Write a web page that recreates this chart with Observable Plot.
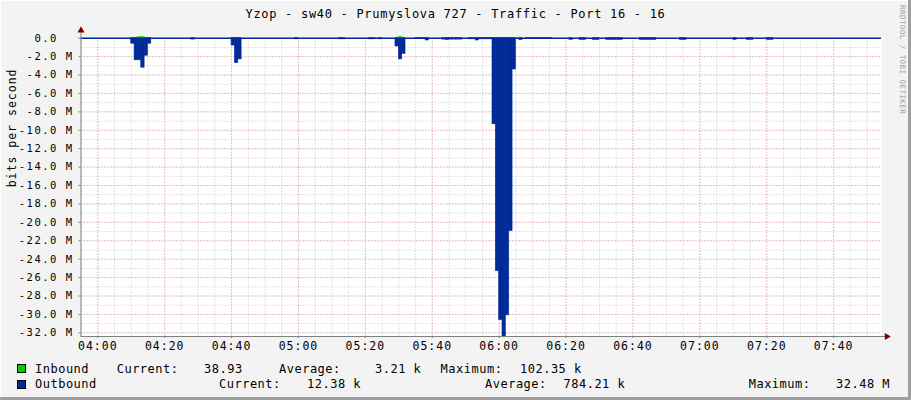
<!DOCTYPE html>
<html><head><meta charset="utf-8">
<script src="https://cdn.jsdelivr.net/npm/d3@7"></script>
<script src="https://cdn.jsdelivr.net/npm/@observablehq/plot@0.6"></script>
<style>
body{margin:0;background:#fff;}
#c{position:relative;width:911px;height:400px;background:#F3F3F3;overflow:hidden;font-family:"DejaVu Sans Mono",monospace;box-shadow:inset -3px -3px 0 #9F9F9F, inset 1px 1px 0 #FFFFFF;}
#title{position:absolute;left:0;top:7px;width:911px;text-align:center;font-size:12px;line-height:14px;letter-spacing:0.7px;color:#000;}
#wm{position:absolute;left:898px;top:5px;writing-mode:vertical-rl;font-size:7.5px;color:#A0A0A0;letter-spacing:0.45px;}
#plot{position:absolute;left:0;top:27px;}
#plot svg{overflow:visible;}
.ax-y text{font-size:10.5px;letter-spacing:1.5px;}
.ax-x text{font-size:11.5px;letter-spacing:1px;}
.ylab text{font-size:11.5px;letter-spacing:1px;}
.lg{position:absolute;font-size:12px;line-height:14px;letter-spacing:0.5px;white-space:pre;color:#000;}
.sw{position:absolute;width:7px;height:7px;border:1px solid #000;}
</style></head>
<body>
<div id="c">
  <div id="title"></div>
  <div id="wm">RRDTOOL / TOBI OETIKER</div>
  <div id="plot"></div>
</div>
<script>
// ---- data ----
const titleText = "Yzop - sw40 - Prumyslova 727 - Traffic - Port 16 - 16";
const yLabel = "bits per second";
// minutes after 04:00 (1-minute bins) and outbound rate in Mbit/s
const outMinutes = [10,11,12,13,14,15, 28, 40,41,42, 59, 72,73,81,82,84, 89,90,91,
  95,96,97,98, 103,104,105,106,107,108, 111,112,113,114,115,116,117,
  118,119,120,121,122,123,124, 126, 128,129,130,131,132,133,134,135,
  141,144,145,148,149,152,153,154,155,156,162,163,164,165,166,174,175,190,194,195,200,201];
const outMbps = [0.6,2.4,2.4,3.2,1.9,0.6, 0.15, 0.8,2.7,2.3, 0.12, 0.12,0.12,0.12,0.12,0.12, 0.9,2.3,1.7,
  0.1,0.1,0.1,0.25, 0.15,0.2,0.15,0.15,0.15,0.15, 0.12,0.12,0.25,0.12,0.12,0.12,0.12,
  9.35,25.3,30.6,32.48,30.1,20.95,3.4, 0.2, 0.1,0.1,0.1,0.1,0.1,0.1,0.1,0.1,
  0.18,0.18,0.18,0.18,0.18,0.18,0.18,0.18,0.18,0.18,0.18,0.18,0.18,0.18,0.18,0.18,0.18,0.18,0.18,0.18,0.18,0.18];
const inMinutes = [12,13,90];
const inMbps = [0.10,0.09,0.10];
const yTickValues = [0,-2,-4,-6,-8,-10,-12,-14,-16,-18,-20,-22,-24,-26,-28,-30,-32];
const xTickMinutes = [0,20,40,60,80,100,120,140,160,180,200,220];
const seriesNames = ["Inbound","Outbound"];
const seriesColors = ["#00CF00","#002A97"];
const statNames = ["Current:","Average:","Maximum:"];
const inStats = ["38.93","3.21 k","102.35 k"];
const outStats = ["12.38 k","784.21 k","32.48 M"];

// ---- helpers ----
const base = new Date(2024,0,1,4,0,0);
const t = m => new Date(base.getTime() + m*60000);
const xDomain = [t(-5.02), t(234.3)];
const yDomain = [-32.4, 0];
const outbound = outMinutes.map((m,i)=>({a:t(m), b:t(m+1), v:-outMbps[i]}));
const inbound = inMinutes.map((m,i)=>({a:t(m), b:t(m+1), v:inMbps[i]}));
const yMinor = d3.range(0,-33,-1);
const xMinor = d3.range(-5,235,5).map(t);
const xMajor = xTickMinutes.map(t);
const fmtY = v => v===0 ? "0.0\u00a0\u00a0" : v.toFixed(1)+" M";

document.getElementById("title").textContent = titleText;

const chart = Plot.plot({
  width:911, height:333,
  marginLeft:80.5, marginRight:30, marginTop:10.7, marginBottom:24,
  style:{background:"transparent", fontFamily:"'DejaVu Sans Mono', monospace", color:"#000"},
  x:{type:"time", domain:xDomain},
  y:{domain:yDomain},
  marks:[
    Plot.frame({fill:"white", stroke:"none"}),
    Plot.ruleY(yMinor, {stroke:"#C8C8C8", strokeDasharray:"1,2"}),
    Plot.ruleX(xMinor, {stroke:"#C8C8C8", strokeDasharray:"1,2"}),
    Plot.ruleY(yTickValues.filter(v=>v!==0), {stroke:"#EBA0A0", strokeDasharray:"1,2"}),
    Plot.ruleX(xMajor, {stroke:"#EBA0A0", strokeDasharray:"1,2"}),
    Plot.rect(outbound, {x1:"a", x2:"b", y1:0, y2:"v", inset:0, fill:seriesColors[1], stroke:seriesColors[1], strokeWidth:0.6}),
    Plot.rect(inbound, {x1:"a", x2:"b", y1:0, y2:"v", inset:0, fill:seriesColors[0], stroke:seriesColors[0], strokeWidth:1}),
    Plot.ruleY([0], {stroke:seriesColors[1], strokeWidth:1.6}),
    Plot.ruleY([yDomain[0]], {x1:xDomain[0], x2:t(235.6), stroke:"#808080"}),
    Plot.ruleX([xDomain[0]], {y1:yDomain[0], y2:0.75, stroke:"#808080"}),
    Plot.dot([0], {x:()=>t(235.9), y:()=>yDomain[0], symbol:"triangle", r:2.6, rotate:90, fill:"#800000", stroke:"none"}),
    Plot.dot([0], {x:()=>xDomain[0], y:()=>0.85, symbol:"triangle", r:2.6, fill:"#800000", stroke:"none"}),
    Plot.axisX({ticks:xMajor, tickFormat:d3.timeFormat("%H:%M"), tickSize:2, stroke:"#808080", tickPadding:3.5, className:"ax-x", label:null}),
    Plot.axisY({ticks:yTickValues, tickFormat:fmtY, tickSize:2, stroke:"#808080", tickPadding:5.5, className:"ax-y", label:null}),
    Plot.text([yLabel], {frameAnchor:"left", rotate:-90, dx:-69, className:"ylab", fill:"#000"})
  ]
});
document.getElementById("plot").appendChild(chart);

// ---- legend ----
const c = document.getElementById("c");
const rowTop = [362, 377];
const swTop = [364, 380];
const rowsText = [
  [[seriesNames[0],35],[statNames[0],116.7],[inStats[0],204],[statNames[1],279],[inStats[1],375],[statNames[2],440.6],[inStats[2],520]],
  [[seriesNames[1],35],[statNames[0],219],[outStats[0],307],[statNames[1],485],[outStats[1],563.5],[statNames[2],748.7],[outStats[2],836]]
];
rowsText.forEach((row,r)=>{
  const sw = document.createElement("div");
  sw.className="sw"; sw.style.left="17px"; sw.style.top=swTop[r]+"px"; sw.style.background=seriesColors[r];
  c.appendChild(sw);
  row.forEach(([txt,x])=>{
    const d=document.createElement("div");
    d.className="lg"; d.style.left=x+"px"; d.style.top=rowTop[r]+"px"; d.textContent=txt;
    c.appendChild(d);
  });
});
</script>
</body></html>
